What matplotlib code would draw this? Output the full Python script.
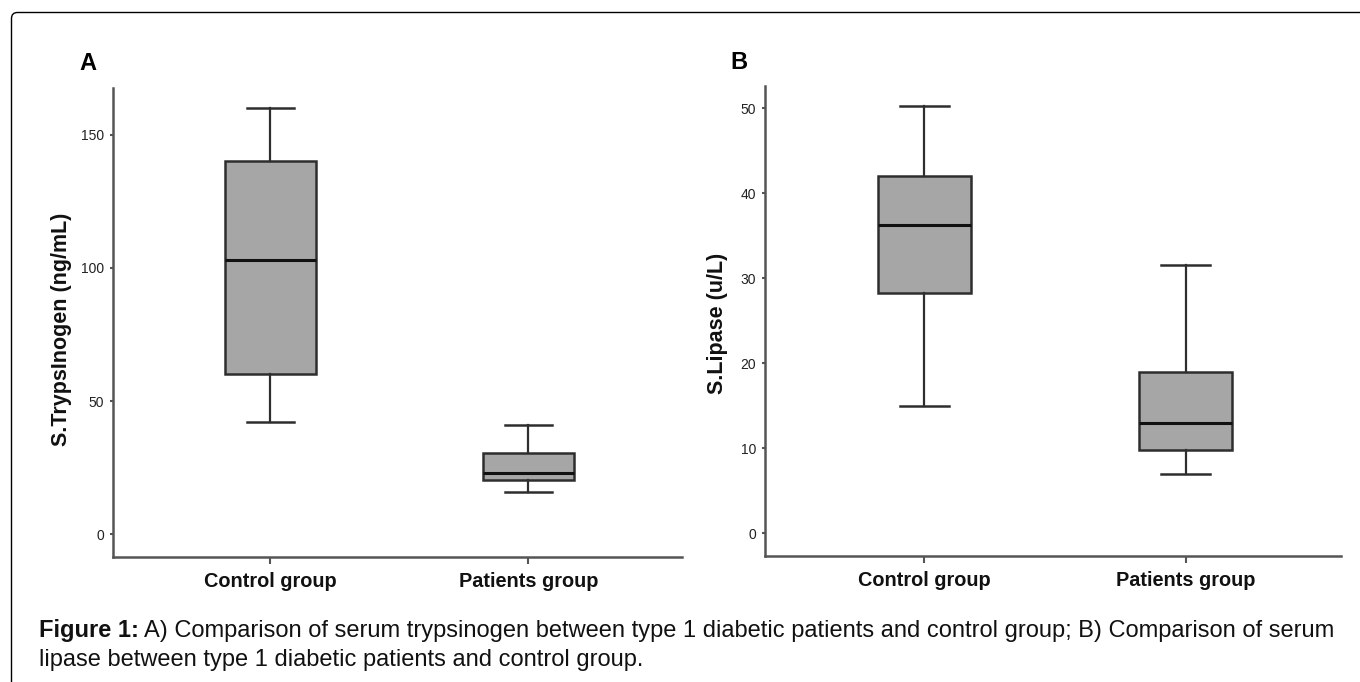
import matplotlib
matplotlib.use("Agg")
import matplotlib.pyplot as plt
from matplotlib.patches import FancyBboxPatch

plt.rcParams['font.family'] = ['Liberation Sans', 'DejaVu Sans']

groups = ["Control group", "Patients group"]

# Panel A: serum trypsinogen (ng/mL), box summary per group
tryp_low = [42.0, 16.0]
tryp_q1 = [60.0, 20.5]
tryp_med = [103.0, 23.0]
tryp_q3 = [140.0, 30.5]
tryp_high = [160.0, 41.0]
tryp_ticks = [0, 50, 100, 150]

# Panel B: serum lipase (u/L)
lip_low = [15.0, 7.0]
lip_q1 = [28.3, 9.75]
lip_med = [36.3, 12.9]
lip_q3 = [42.0, 18.9]
lip_high = [50.3, 31.5]
lip_ticks = [0, 10, 20, 30, 40, 50]

caption_bold = "Figure 1:"
caption_line1 = ("A) Comparison of serum trypsinogen between type 1 diabetic patients "
                 "and control group; B) Comparison of serum")
caption_line2 = "lipase between type 1 diabetic patients and control group."

W, H = 1360, 682


def make_stats(low, q1, med, q3, high):
    stats = []
    for i in range(len(groups)):
        stats.append(dict(whislo=low[i], q1=q1[i], med=med[i], q3=q3[i],
                          whishi=high[i], fliers=[], label=groups[i]))
    return stats


def draw_panel(ax, stats, ylim, yticks, ylabel, label_xy):
    ax.bxp(stats, positions=[1, 2], widths=0.355, capwidths=0.185,
           patch_artist=True, showfliers=False,
           boxprops=dict(facecolor='#a6a6a6', edgecolor='#2e2e2e', linewidth=1.8),
           medianprops=dict(color='#111111', linewidth=2.2),
           whiskerprops=dict(color='#2e2e2e', linewidth=1.6),
           capprops=dict(color='#2e2e2e', linewidth=1.8))
    ax.set_xlim(0.39, 2.595)
    ax.set_ylim(*ylim)
    ax.set_yticks(yticks)
    ax.set_xticks([1, 2])
    ax.set_xticklabels(groups, fontsize=14.3, fontweight='bold', color='#111111')
    for side in ("top", "right"):
        ax.spines[side].set_visible(False)
    for side in ("left", "bottom"):
        ax.spines[side].set_color('#555555')
        ax.spines[side].set_linewidth(1.8)
    ax.tick_params(axis='y', length=2, width=1.5, color='#555555',
                   labelsize=10, labelcolor='#222222', pad=4.5)
    ax.tick_params(axis='x', length=5, width=1.5, color='#555555', pad=5.5)
    ax.set_ylabel(ylabel, fontsize=15.5, fontweight='bold', color='#111111')
    ax.yaxis.set_label_coords(*label_xy)
    ax.set_facecolor('none')


fig = plt.figure(figsize=(W / 100, H / 100), dpi=100)

ax_a = fig.add_axes([113 / W, 1 - 557 / H, (682 - 113) / W, (557 - 88) / H])
ax_b = fig.add_axes([765 / W, 1 - 556 / H, (1341 - 765) / W, (556 - 86) / H])

draw_panel(ax_a, make_stats(tryp_low, tryp_q1, tryp_med, tryp_q3, tryp_high),
           (-8.5, 167.5), tryp_ticks, "S.TrypsInogen (ng/mL)", (-0.072, 0.485))
draw_panel(ax_b, make_stats(lip_low, lip_q1, lip_med, lip_q3, lip_high),
           (-2.7, 52.6), lip_ticks, "S.Lipase (u/L)", (-0.064, 0.496))

# panel letters
fig.text(79 / W, 1 - 70 / H, "A", fontsize=17, fontweight='bold', va='baseline')
fig.text(730 / W, 1 - 69 / H, "B", fontsize=17, fontweight='bold', va='baseline')

# outer frame, only the top-left corner is visible
frame = FancyBboxPatch((11.5 / 100, -0.5), 20, (H - 12.5) / 100 + 0.5,
                       boxstyle="round,pad=0,rounding_size=0.06",
                       transform=fig.dpi_scale_trans, facecolor='none',
                       edgecolor='black', linewidth=1.0)
fig.patches.append(frame)

# caption
cap_size = 17
t_bold = fig.text(39 / W, 1 - 637 / H, caption_bold, fontsize=cap_size,
                  fontweight='bold', va='baseline', color='#111111')
fig.canvas.draw()
bb = t_bold.get_window_extent(fig.canvas.get_renderer())
fig.text((bb.x1 + 5) / W, 1 - 637 / H, caption_line1, fontsize=cap_size,
         va='baseline', color='#111111')
fig.text(39 / W, 1 - 666 / H, caption_line2, fontsize=cap_size,
         va='baseline', color='#111111')

fig.savefig("out.png", dpi=100)
